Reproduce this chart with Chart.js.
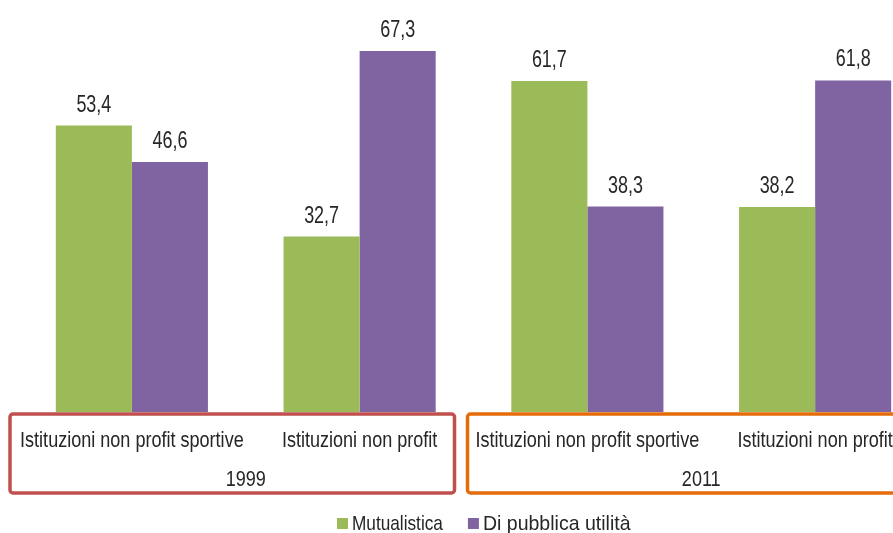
<!DOCTYPE html>
<html lang="it">
<head>
    <meta charset="UTF-8">
    <title>Istituzioni non profit 1999 - 2011</title>
    <script src="https://cdn.jsdelivr.net/npm/chart.js"></script>
    <style>
        body {
            margin: 0;
            padding: 0;
            background: #ffffff;
        }
        .wrap {
            width: 893px;
            height: 533px;
            overflow: hidden;
            position: relative;
        }
    </style>
</head>
<body>
    <div class="wrap">
        <canvas id="chart" width="972" height="533"></canvas>
    </div>

    <script>
        const categories = ["Istituzioni non profit sportive", "Istituzioni non profit", "Istituzioni non profit sportive", "Istituzioni non profit"];
        const years = ["1999", "2011"];
        const mutualistica = [53.4, 32.7, 61.7, 38.2];
        const pubblicaUtilita = [46.6, 67.3, 38.3, 61.8];

        const FONT = "'Liberation Sans', Arial, sans-serif";
        const TEXT = "#262626";

        // no narrow font installed, so squeeze the text horizontally
        function narrowText(ctx, text, x, y, size, sx, align) {
            ctx.save();
            ctx.font = size + "px " + FONT;
            ctx.fillStyle = TEXT;
            ctx.textAlign = align || "center";
            ctx.textBaseline = "alphabetic";
            ctx.translate(x, y);
            ctx.scale(sx, 1);
            ctx.fillText(text, 0, 0);
            ctx.restore();
        }

        // numbers above the bars, with comma decimals
        const valueLabels = {
            id: "valueLabels",
            afterDatasetsDraw(chart) {
                chart.data.datasets.forEach((ds, i) => {
                    chart.getDatasetMeta(i).data.forEach((bar, j) => {
                        narrowText(chart.ctx, ds.data[j].toFixed(1).replace(".", ","), bar.x, bar.y - 14, 23, 0.78);
                    });
                });
            }
        };

        // category labels, year boxes and legend under the bars
        const bottomArea = {
            id: "bottomArea",
            afterDraw(chart) {
                const ctx = chart.ctx;
                const x = chart.scales.x;
                const half = (x.getPixelForValue(1) - x.getPixelForValue(0)) / 2;
                const colors = ["#C0504D", "#E46C0A"];

                categories.forEach((c, i) => {
                    narrowText(ctx, c, x.getPixelForValue(i), 447, 22, 0.82);
                });

                years.forEach((year, g) => {
                    const left = x.getPixelForValue(g * 2) - half;
                    const right = x.getPixelForValue(g * 2 + 1) + half;
                    const bx = g === 0 ? left - 8 : left - 6;
                    const bw = g === 0 ? (right - 19) - bx : right + 20 - bx;
                    ctx.save();
                    ctx.strokeStyle = colors[g];
                    ctx.lineWidth = 3.5;
                    ctx.beginPath();
                    ctx.roundRect(bx, 414, bw, 79, 3);
                    ctx.stroke();
                    ctx.restore();
                    narrowText(ctx, year, (left + right) / 2, 486, 22, 0.82);
                });

                // legend
                const legendScale = [0.82, 0.93];
                let lx = 337;
                chart.data.datasets.forEach((ds, i) => {
                    ctx.fillStyle = ds.backgroundColor;
                    ctx.fillRect(lx, 518, 11, 11);
                    narrowText(ctx, ds.label, lx + 15, 530, 21, legendScale[i], "left");
                    ctx.font = "21px " + FONT;
                    lx += 15 + ctx.measureText(ds.label).width * legendScale[i] + 25;
                });
            }
        };

        new Chart(document.getElementById("chart"), {
            type: "bar",
            data: {
                labels: categories,
                datasets: [
                    {
                        label: "Mutualistica",
                        data: mutualistica,
                        backgroundColor: "#9BBB59",
                        categoryPercentage: 0.668,
                        barPercentage: 1.0
                    },
                    {
                        label: "Di pubblica utilità",
                        data: pubblicaUtilita,
                        backgroundColor: "#8064A2",
                        categoryPercentage: 0.668,
                        barPercentage: 1.0
                    }
                ]
            },
            options: {
                responsive: false,
                animation: false,
                layout: { padding: { left: 18, top: 0, right: 0, bottom: 0 } },
                plugins: {
                    tooltip: { enabled: false },
                    legend: { display: false }
                },
                scales: {
                    x: {
                        grid: { display: false },
                        border: { display: false },
                        ticks: { display: false },
                        afterFit(scale) { scale.height = 121; }
                    },
                    y: {
                        position: "right",
                        min: 0,
                        max: 76.8,
                        grid: { display: false },
                        border: { display: false },
                        ticks: { display: false },
                        afterFit(scale) { scale.width = 43; }
                    }
                }
            },
            plugins: [valueLabels, bottomArea]
        });
    </script>
</body>
</html>
